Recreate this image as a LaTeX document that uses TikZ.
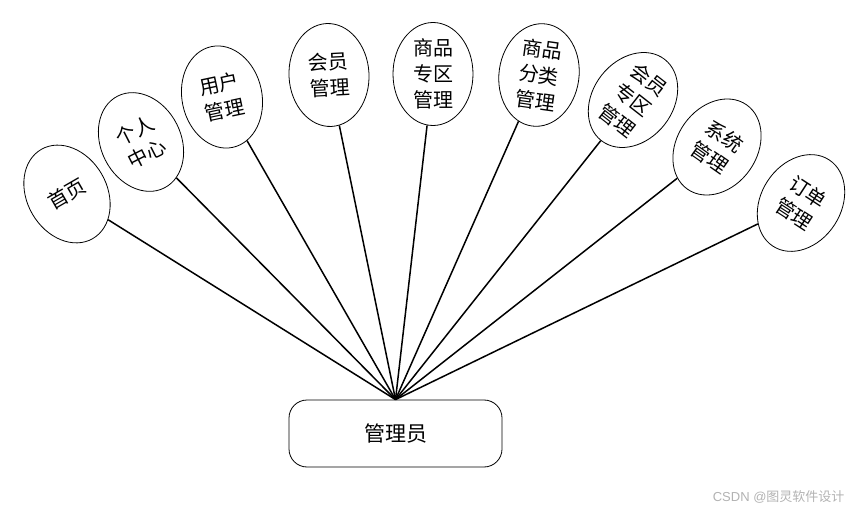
\documentclass[tikz,border=0pt]{standalone}
\usepackage{fontspec}
\setmainfont{Liberation Serif}
\newfontfamily\cjk{Noto Sans CJK SC}
\usetikzlibrary{shapes.geometric}

\begin{document}
\begin{tikzpicture}[x=1pt, y=-1pt,
    func/.style={ellipse, draw, line width=0.8pt, fill=white,
                 minimum width=80pt, minimum height=103pt, inner sep=0pt,
                 font=\cjk\fontsize{20}{26}\selectfont, align=center},
    role/.style={rectangle, draw, line width=0.8pt, rounded corners=18pt,
                 minimum width=213pt, minimum height=67pt,
                 font=\cjk\fontsize{21}{24}\selectfont},
    link/.style={line width=1.5pt}
  ]
    \useasboundingbox (0,0) rectangle (852,513);
    \node[role] (admin) at (395.5,433.5) {管理员};
    \node[func, rotate=30]  (F1) at (67,194)  {首页};
    \node[func, rotate=27]  (F2) at (141,142) {个人\\中心};
    \node[func, rotate=12]  (F3) at (222,97)  {用户\\管理};
    \node[func, rotate=3]   (F4) at (329,75)  {会员\\管理};
    \node[func]             (F5) at (433,74)  {商品\\专区\\管理};
    \node[func, rotate=-8]  (F6) at (539,75)  {商品\\分类\\管理};
    \node[func, rotate=-38] (F7) at (633,100) {会员\\专区\\管理};
    \node[func, rotate=-35] (F8) at (717,147) {系统\\管理};
    \node[func, rotate=-33] (F9) at (801,203) {订单\\管理};
    \foreach \f in {F1,F2,F3,F4,F5,F6,F7,F8,F9}
      \draw[link] (\f) -- (admin.north);
    \node[text=black!30, font=\fontspec{Liberation Sans}\fontsize{13}{15}\selectfont, anchor=east] (mark) at (848,497) {CSDN @{\cjk 图灵软件设计}};
  \end{tikzpicture}
\end{document}
